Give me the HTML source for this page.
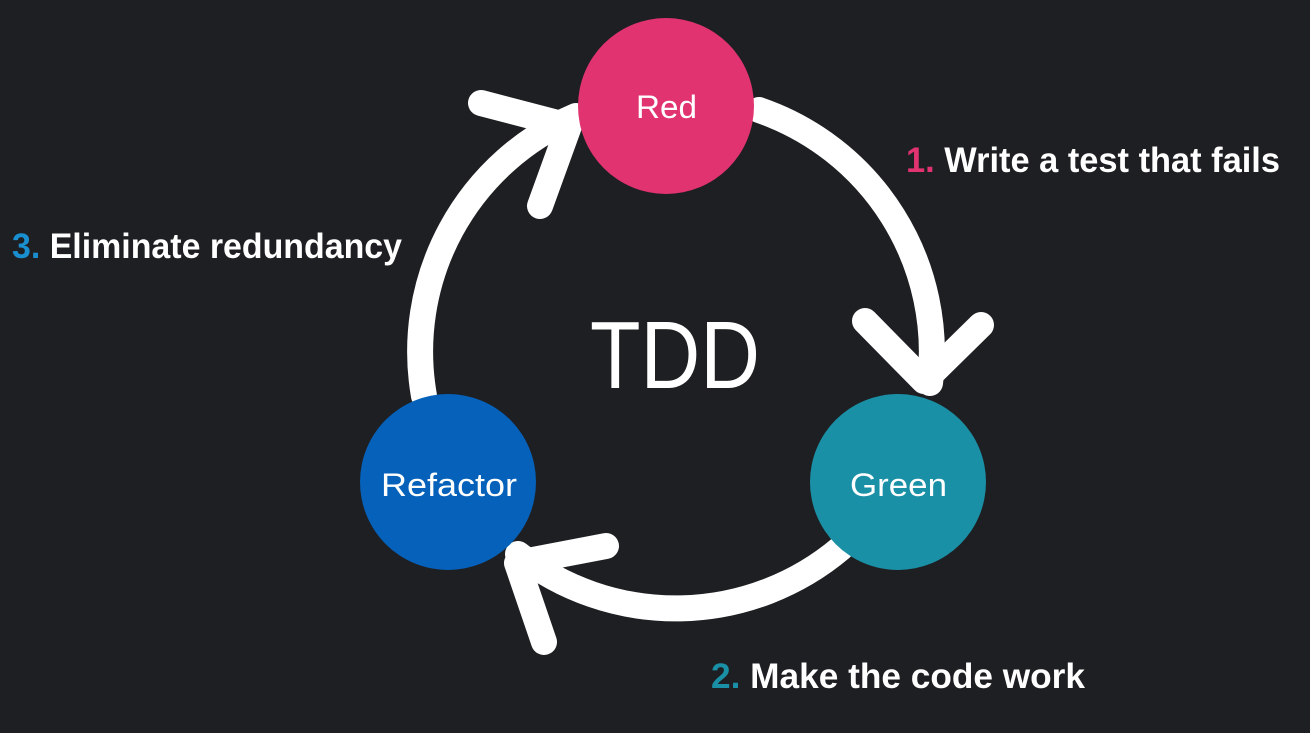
<!DOCTYPE html>
<html><head><style>html,body{margin:0;padding:0;background:#1e1f22;}svg{display:block}</style></head>
<body>
<svg width="1310" height="733" viewBox="0 0 1310 733" xmlns="http://www.w3.org/2000/svg">
<rect width="1310" height="733" fill="#1e1f22"/>
<g fill="none" stroke="#ffffff" stroke-width="26" stroke-linecap="round" stroke-linejoin="round">
<path d="M759 110 A256 256 0 0 1 930 383"/>
<path d="M841 548 A256 256 0 0 1 518 554"/>
<path d="M424 396 A256 256 0 0 1 576 116"/>
<polyline points="865,321 924,381 981,325"/>
<polyline points="606,546 517,563 544,642"/>
<polyline points="481,103 569,126 540,206"/>
</g>
<circle cx="666" cy="106" r="88" fill="#e0336f"/>
<circle cx="898" cy="482" r="88" fill="#1a90a6"/>
<circle cx="448" cy="482" r="88" fill="#0561ba"/>
<g font-family="Liberation Sans, DejaVu Sans, sans-serif" fill="#ffffff">
<text x="636" y="118" font-size="32" textLength="61" lengthAdjust="spacingAndGlyphs">Red</text>
<text x="850" y="496" font-size="32" textLength="97" lengthAdjust="spacingAndGlyphs">Green</text>
<text x="381" y="496" font-size="32" textLength="136" lengthAdjust="spacingAndGlyphs">Refactor</text>
<text x="590" y="388" font-size="96" textLength="170" lengthAdjust="spacingAndGlyphs">TDD</text>
<text x="906" y="172" font-size="35" font-weight="bold" textLength="374" lengthAdjust="spacingAndGlyphs"><tspan fill="#e0336f">1.</tspan> Write a test that fails</text>
<text x="711" y="688" font-size="35" font-weight="bold" textLength="374" lengthAdjust="spacingAndGlyphs"><tspan fill="#1a90a6">2.</tspan> Make the code work</text>
<text x="12" y="258" font-size="35" font-weight="bold" textLength="390" lengthAdjust="spacingAndGlyphs"><tspan fill="#1a8fd0">3.</tspan> Eliminate redundancy</text>
</g>
</svg>
</body></html>
